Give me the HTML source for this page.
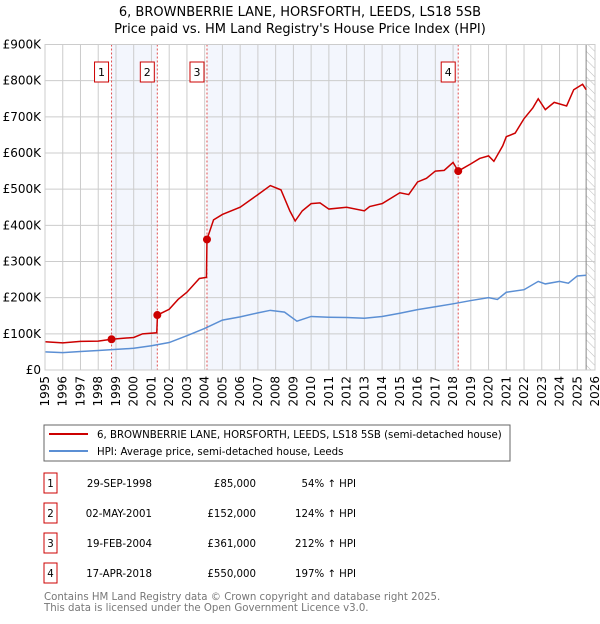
<!DOCTYPE html>
<html><head><meta charset="utf-8"><style>
body{margin:0;background:#fff;width:600px;height:620px;overflow:hidden;font-family:"DejaVu Sans","Liberation Sans",sans-serif;}
svg text{font-family:"DejaVu Sans","Liberation Sans",sans-serif;}
</style></head><body>
<svg id="c" width="600" height="620" xmlns="http://www.w3.org/2000/svg">
<defs><pattern id="hatch" width="6" height="6" patternUnits="userSpaceOnUse" patternTransform="rotate(-45)"><line x1="0" y1="0" x2="0" y2="6" stroke="#bbb" stroke-width="1"/></pattern></defs>
<text x="300" y="16" text-anchor="middle" font-size="13" fill="#000">6, BROWNBERRIE LANE, HORSFORTH, LEEDS, LS18 5SB</text>
<text x="300" y="33" text-anchor="middle" font-size="13" fill="#000">Price paid vs. HM Land Registry's House Price Index (HPI)</text>
<g id="plot"></g>
<g>
<rect x="44" y="425" width="466" height="36" fill="#fff" stroke="#666"/>
<line x1="49" y1="434" x2="88" y2="434" stroke="#cc0000" stroke-width="2"/>
<text x="97" y="438" font-size="10.2">6, BROWNBERRIE LANE, HORSFORTH, LEEDS, LS18 5SB (semi-detached house)</text>
<line x1="49" y1="451" x2="88" y2="451" stroke="#5b8fd4" stroke-width="2"/>
<text x="97" y="455" font-size="10.2">HPI: Average price, semi-detached house, Leeds</text>
</g>
<g id="table" font-size="10.2"></g>
<text x="44" y="600" font-size="10.2" fill="#777">Contains HM Land Registry data © Crown copyright and database right 2025.</text>
<text x="44" y="611" font-size="10.2" fill="#777">This data is licensed under the Open Government Licence v3.0.</text>
</svg>
<script>
const hpiYears=[1995,1996,1997,1998,1999,2000,2001,2002,2003,2004,2005,2006,2007,2007.7,2008.5,2009.2,2010,2011,2012,2013,2014,2015,2016,2017,2018,2019,2020,2020.5,2021,2022,2022.8,2023.2,2024,2024.5,2025,2025.5];
const hpiValues=[50,48,51,54,57,60,67,76,95,115,138,147,158,165,160,135,148,146,145,143,148,157,167,175,183,192,200,195,215,222,245,238,245,240,260,262];
const redYears=[1995,1996,1997,1998,1998.75,1999.5,2000,2000.5,2001.3,2001.34,2002,2002.5,2003,2003.7,2004.1,2004.13,2004.5,2005,2006,2007,2007.7,2008.3,2008.8,2009.1,2009.5,2010,2010.5,2011,2012,2013,2013.3,2014,2015,2015.5,2016,2016.5,2017,2017.5,2018,2018.29,2019,2019.5,2020,2020.3,2020.8,2021,2021.5,2022,2022.5,2022.8,2023.2,2023.7,2024.4,2024.8,2025.3,2025.5];
const redValues=[78,75,79,80,85,88,90,100,103,152,168,195,215,253,256,361,415,430,450,485,510,498,440,412,440,460,462,445,450,440,452,460,490,485,520,530,550,552,574,550,570,585,592,577,620,645,655,695,725,750,720,740,730,775,790,775];
const saleYears=[1998.75,2001.33,2004.13,2018.29];
const saleValues=[85,152,361,550];
const saleLabels=["1","2","3","4"];
const saleDates=["29-SEP-1998","02-MAY-2001","19-FEB-2004","17-APR-2018"];
const salePrices=["£85,000","£152,000","£361,000","£550,000"];
const salePcts=["54% ↑ HPI","124% ↑ HPI","212% ↑ HPI","197% ↑ HPI"];
const yTicks=[0,100,200,300,400,500,600,700,800,900];
const yTickLabels=["£0","£100K","£200K","£300K","£400K","£500K","£600K","£700K","£800K","£900K"];
const xTicks=[1995,1996,1997,1998,1999,2000,2001,2002,2003,2004,2005,2006,2007,2008,2009,2010,2011,2012,2013,2014,2015,2016,2017,2018,2019,2020,2021,2022,2023,2024,2025,2026];

const X0=45,X1=595,Y0=370,Y1=44.5;
const sx=y=>X0+(y-1995)/(2026-1995)*(X1-X0);
const sy=v=>Y0-v/900*(Y0-Y1);
const NS="http://www.w3.org/2000/svg";
const plot=document.getElementById('plot');
function mk(tag,attrs,parent){const e=document.createElementNS(NS,tag);for(const k in attrs)e.setAttribute(k,attrs[k]);(parent||plot).appendChild(e);return e;}

let e;
e=mk('rect',{x:sx(saleYears[0]),y:Y1,width:sx(saleYears[1])-sx(saleYears[0]),height:Y0-Y1,fill:'#f3f6fd'});


e=mk('rect',{x:sx(saleYears[2]),y:Y1,width:sx(saleYears[3])-sx(saleYears[2]),height:Y0-Y1,fill:'#f3f6fd'});


e=mk('rect',{x:sx(2025.5),y:Y1,width:X1-sx(2025.5),height:Y0-Y1,fill:'url(#hatch)'});



xTicks.forEach(t=>{
  e=mk('line',{x1:sx(t),x2:sx(t),y1:Y1,y2:Y0,stroke:'#ccc','stroke-width':1});
  
  
  e=mk('text',{x:0,y:0,'font-size':12,'text-anchor':'end',transform:`translate(${sx(t)+4},${Y0+6}) rotate(-90)`});
  e.textContent=t;
  
  
});
yTicks.forEach((t,i)=>{
  e=mk('line',{x1:X0,x2:X1,y1:sy(t),y2:sy(t),stroke:'#ccc','stroke-width':1});
  
  
  e=mk('text',{x:X0-4,y:sy(t)+4,'font-size':12,'text-anchor':'end'});
  e.textContent=yTickLabels[i];
  
  
});
e=mk('line',{x1:sx(2025.5),x2:sx(2025.5),y1:Y1,y2:Y0,stroke:'#888','stroke-width':1});



saleYears.forEach((y,i)=>{
  e=mk('line',{x1:sx(y),x2:sx(y),y1:Y1,y2:Y0,stroke:'#e05050','stroke-width':1,'stroke-dasharray':'2,2'});
  
  
});

e=mk('polyline',{points:hpiYears.map((y,i)=>sx(y)+','+sy(hpiValues[i])).join(' '),fill:'none',stroke:'#5b8fd4','stroke-width':1.5});


e=mk('polyline',{points:redYears.map((y,i)=>sx(y)+','+sy(redValues[i])).join(' '),fill:'none',stroke:'#cc0000','stroke-width':1.5});



saleYears.forEach((y,i)=>{
  e=mk('circle',{cx:sx(y),cy:sy(saleValues[i]),r:4,fill:'#cc0000'});
  
  
  e=mk('rect',{x:sx(y)-17,y:62,width:14,height:20,fill:'#fff',stroke:'#cc0000','stroke-width':1});
  
  
  e=mk('text',{x:sx(y)-10,y:76,'font-size':11,'text-anchor':'middle'});
  e.textContent=saleLabels[i];
  
  
});
e=mk('rect',{x:X0,y:Y1,width:X1-X0,height:Y0-Y1,fill:'none',stroke:'#ccc'});



const tb=document.getElementById('table');
saleLabels.forEach((l,i)=>{
  const cy=483+i*30;
  e=mk('rect',{x:44,y:cy-10,width:13,height:20,fill:'#fff',stroke:'#cc0000'},tb);
  
  
  e=mk('text',{x:50.5,y:cy+4,'text-anchor':'middle'},tb);e.textContent=l;
  
  
  e=mk('text',{x:152,y:cy+4,'text-anchor':'end'},tb);e.textContent=saleDates[i];
  
  
  e=mk('text',{x:256,y:cy+4,'text-anchor':'end'},tb);e.textContent=salePrices[i];
  
  
  e=mk('text',{x:356,y:cy+4,'text-anchor':'end'},tb);e.textContent=salePcts[i];
  
  
});
</script>
</body></html>
